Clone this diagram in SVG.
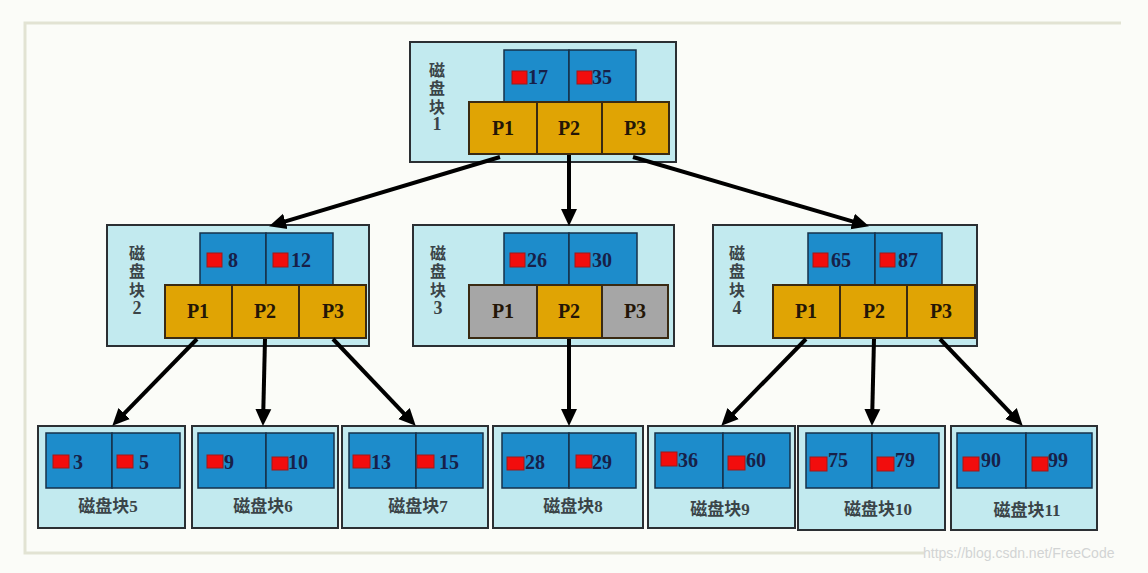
<svg xmlns="http://www.w3.org/2000/svg" width="1148" height="573" viewBox="0 0 1148 573">
<defs>
<style>
.bg{fill:#fbfcf8}
.frame{stroke:#e2e3d3;stroke-width:3;fill:none}
.blk{fill:#c2eaef;stroke:#2b2f33;stroke-width:2}
.key{fill:#1d8ccb;stroke:#16304a;stroke-width:1.5}
.ptr{fill:#e0a404;stroke:#3a2a12;stroke-width:2}
.gry{fill:#a6a6a6;stroke:#3a2a12;stroke-width:2}
.red{fill:#f20d0d;stroke:#a01818;stroke-width:1}
.num{font-family:"Liberation Serif","Noto Sans CJK SC",serif;font-weight:bold;font-size:20px;fill:#172048}
.p{font-family:"Liberation Serif","Noto Sans CJK SC",serif;font-weight:bold;font-size:20px;fill:#241607;text-anchor:middle}
.lbl{font-family:"Liberation Serif","Noto Sans CJK SC",serif;font-weight:bold;font-size:16px;fill:#3a4448;text-anchor:middle}
.blbl{font-family:"Liberation Serif","Noto Sans CJK SC",serif;font-weight:bold;font-size:17px;fill:#3a4448;text-anchor:middle}
.dig{font-size:18px}
.conn line{stroke:#000;stroke-width:4;marker-end:url(#ah)}
.wm{font-family:"Liberation Sans",Arial,sans-serif;font-size:14px;fill:#d2d4d4}
</style>
<marker id="ah" markerUnits="userSpaceOnUse" markerWidth="18" markerHeight="18" refX="6" refY="9" orient="auto">
<path d="M0,1 L17,9 L0,17 z" fill="#000"/>
</marker>
</defs>
<rect class="bg" x="0" y="0" width="1148" height="573"/>
<path class="frame" d="M1121,23 H25 V553 H924"/>

<g id="block1">
<rect class="blk" x="410" y="42" width="266" height="120"/>
<rect class="key" x="504" y="50" width="65" height="52"/>
<rect class="key" x="569" y="50" width="67" height="52"/>
<rect class="ptr" x="469" y="102" width="68" height="52"/>
<rect class="ptr" x="537" y="102" width="65" height="52"/>
<rect class="ptr" x="602" y="102" width="67" height="52"/>
<rect class="red" x="512" y="71" width="15" height="13"/><text class="num" x="528" y="84">17</text>
<rect class="red" x="577" y="71" width="15" height="13"/><text class="num" x="592" y="84">35</text>
<text class="p" x="503" y="135">P1</text><text class="p" x="569" y="135">P2</text><text class="p" x="635" y="135">P3</text>
<text class="lbl" x="437" y="76">磁</text><text class="lbl" x="437" y="94">盘</text><text class="lbl" x="437" y="113">块</text><text class="lbl dig" x="437" y="130">1</text>
</g>

<g id="block2">
<rect class="blk" x="107" y="225" width="262" height="121"/>
<rect class="key" x="200" y="233" width="66" height="52"/>
<rect class="key" x="266" y="233" width="67" height="52"/>
<rect class="ptr" x="165" y="285" width="67" height="53"/>
<rect class="ptr" x="232" y="285" width="67" height="53"/>
<rect class="ptr" x="299" y="285" width="67" height="53"/>
<rect class="red" x="207" y="253" width="15" height="14"/><text class="num" x="228" y="267">8</text>
<rect class="red" x="273" y="253" width="15" height="14"/><text class="num" x="291" y="267">12</text>
<text class="p" x="198" y="318">P1</text><text class="p" x="265" y="318">P2</text><text class="p" x="333" y="318">P3</text>
<text class="lbl" x="137" y="259">磁</text><text class="lbl" x="137" y="277">盘</text><text class="lbl" x="137" y="296">块</text><text class="lbl dig" x="137" y="314">2</text>
</g>

<g id="block3">
<rect class="blk" x="413" y="225" width="261" height="121"/>
<rect class="key" x="504" y="233" width="65" height="52"/>
<rect class="key" x="569" y="233" width="68" height="52"/>
<rect class="gry" x="469" y="285" width="68" height="53"/>
<rect class="ptr" x="537" y="285" width="65" height="53"/>
<rect class="gry" x="602" y="285" width="66" height="53"/>
<rect class="red" x="510" y="253" width="15" height="14"/><text class="num" x="527" y="267">26</text>
<rect class="red" x="575" y="253" width="15" height="14"/><text class="num" x="592" y="267">30</text>
<text class="p" x="503" y="318">P1</text><text class="p" x="569" y="318">P2</text><text class="p" x="635" y="318">P3</text>
<text class="lbl" x="438" y="259">磁</text><text class="lbl" x="438" y="277">盘</text><text class="lbl" x="438" y="296">块</text><text class="lbl dig" x="438" y="314">3</text>
</g>

<g id="block4">
<rect class="blk" x="713" y="225" width="264" height="121"/>
<rect class="key" x="808" y="233" width="67" height="52"/>
<rect class="key" x="875" y="233" width="67" height="52"/>
<rect class="ptr" x="773" y="285" width="67" height="53"/>
<rect class="ptr" x="840" y="285" width="67" height="53"/>
<rect class="ptr" x="907" y="285" width="68" height="53"/>
<rect class="red" x="813" y="253" width="15" height="14"/><text class="num" x="831" y="267">65</text>
<rect class="red" x="880" y="253" width="15" height="14"/><text class="num" x="898" y="267">87</text>
<text class="p" x="806" y="318">P1</text><text class="p" x="874" y="318">P2</text><text class="p" x="941" y="318">P3</text>
<text class="lbl" x="737" y="259">磁</text><text class="lbl" x="737" y="277">盘</text><text class="lbl" x="737" y="296">块</text><text class="lbl dig" x="737" y="314">4</text>
</g>

<g id="block5">
<rect class="blk" x="38" y="426" width="147" height="102"/>
<rect class="key" x="46" y="433" width="66" height="55"/>
<rect class="key" x="112" y="433" width="68" height="55"/>
<rect class="red" x="53" y="455" width="16" height="13"/><text class="num" x="73" y="469">3</text>
<rect class="red" x="117" y="455" width="16" height="13"/><text class="num" x="139" y="469">5</text>
<text class="blbl" x="108" y="512">磁盘块5</text>
</g>

<g id="block6">
<rect class="blk" x="192" y="426" width="146" height="102"/>
<rect class="key" x="198" y="433" width="68" height="55"/>
<rect class="key" x="266" y="433" width="68" height="55"/>
<rect class="red" x="207" y="455" width="16" height="13"/><text class="num" x="224" y="469">9</text>
<rect class="red" x="272" y="457" width="16" height="13"/><text class="num" x="288" y="469">10</text>
<text class="blbl" x="263" y="512">磁盘块6</text>
</g>

<g id="block7">
<rect class="blk" x="342" y="426" width="146" height="102"/>
<rect class="key" x="349" y="433" width="67" height="55"/>
<rect class="key" x="416" y="433" width="67" height="55"/>
<rect class="red" x="353" y="455" width="17" height="13"/><text class="num" x="371" y="469">13</text>
<rect class="red" x="417" y="455" width="17" height="13"/><text class="num" x="439" y="469">15</text>
<text class="blbl" x="418" y="512">磁盘块7</text>
</g>

<g id="block8">
<rect class="blk" x="493" y="426" width="150" height="102"/>
<rect class="key" x="502" y="433" width="67" height="55"/>
<rect class="key" x="569" y="433" width="67" height="55"/>
<rect class="red" x="507" y="457" width="17" height="13"/><text class="num" x="525" y="469">28</text>
<rect class="red" x="576" y="455" width="16" height="13"/><text class="num" x="592" y="469">29</text>
<text class="blbl" x="573" y="512">磁盘块8</text>
</g>

<g id="block9">
<rect class="blk" x="648" y="426" width="147" height="102"/>
<rect class="key" x="655" y="433" width="68" height="55"/>
<rect class="key" x="723" y="433" width="67" height="55"/>
<rect class="red" x="661" y="452" width="16" height="14"/><text class="num" x="678" y="467">36</text>
<rect class="red" x="728" y="456" width="17" height="14"/><text class="num" x="746" y="467">60</text>
<text class="blbl" x="720" y="515">磁盘块9</text>
</g>

<g id="block10">
<rect class="blk" x="798" y="426" width="147" height="104"/>
<rect class="key" x="806" y="433" width="66" height="55"/>
<rect class="key" x="872" y="433" width="67" height="55"/>
<rect class="red" x="810" y="457" width="17" height="14"/><text class="num" x="828" y="467">75</text>
<rect class="red" x="877" y="457" width="17" height="14"/><text class="num" x="895" y="467">79</text>
<text class="blbl" x="878" y="515">磁盘块10</text>
</g>

<g id="block11">
<rect class="blk" x="951" y="426" width="146" height="104"/>
<rect class="key" x="957" y="433" width="69" height="55"/>
<rect class="key" x="1026" y="433" width="66" height="55"/>
<rect class="red" x="963" y="457" width="16" height="14"/><text class="num" x="981" y="467">90</text>
<rect class="red" x="1032" y="457" width="16" height="14"/><text class="num" x="1048" y="467">99</text>
<text class="blbl" x="1027" y="516">磁盘块11</text>
</g>

<g id="connectors" class="conn">
<line x1="500" y1="157" x2="279.6" y2="223.1"/>
<line x1="569" y1="155" x2="569" y2="215"/>
<line x1="633" y1="157" x2="858.4" y2="223.2"/>
<line x1="197" y1="339" x2="120" y2="417.8"/>
<line x1="265" y1="339" x2="263.2" y2="415"/>
<line x1="333" y1="339" x2="408.1" y2="417.8"/>
<line x1="569" y1="339" x2="569" y2="415"/>
<line x1="806" y1="339" x2="729" y2="417.8"/>
<line x1="874" y1="339" x2="872.2" y2="415"/>
<line x1="940" y1="339" x2="1015.1" y2="417.8"/>
</g>

<text class="wm" x="923" y="558">https://blog.csdn.net/FreeCode</text>
</svg>
